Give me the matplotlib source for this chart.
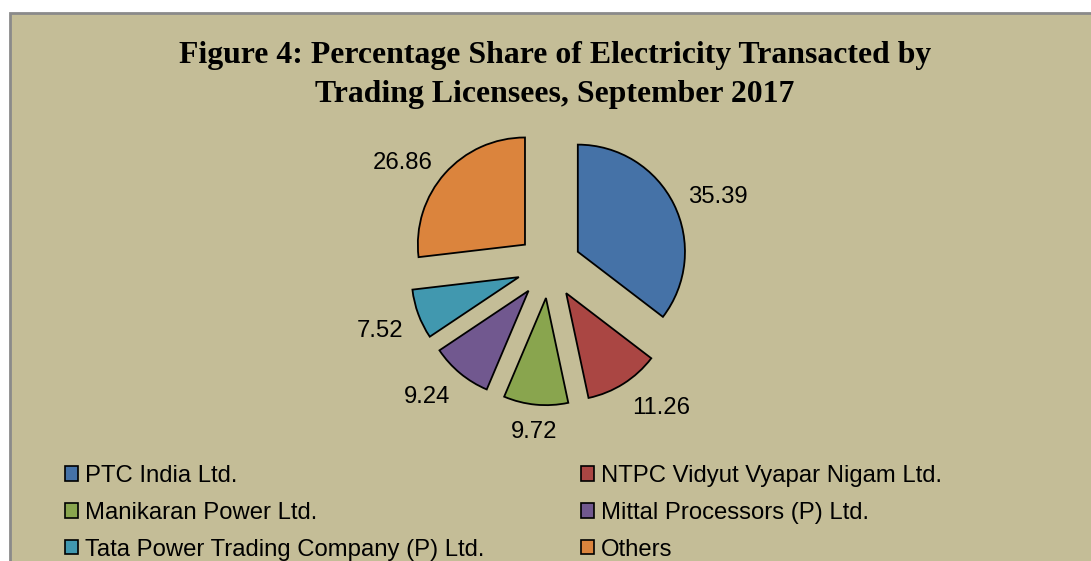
import matplotlib
matplotlib.use("Agg")
import matplotlib.pyplot as plt
from matplotlib.patches import Rectangle, Patch
import numpy as np

# data
companies = ["PTC India Ltd.", "NTPC Vidyut Vyapar Nigam Ltd.", "Manikaran Power Ltd.",
             "Mittal Processors (P) Ltd.", "Tata Power Trading Company (P) Ltd.", "Others"]
shares = [35.39, 11.26, 9.72, 9.24, 7.52, 26.86]
share_labels = ["35.39", "11.26", "9.72", "9.24", "7.52", "26.86"]
colors = ["#4572A7", "#AA4643", "#89A54E", "#71588F", "#4198AF", "#DB843D"]

W, H = 1091, 561
bg = "#C4BD97"
fs = 17.2

plt.rcParams['font.family'] = ['Liberation Sans', 'DejaVu Sans']

fig = plt.figure(figsize=(W / 100, H / 100), dpi=100, facecolor="white")

# chart area frame (right and bottom run off the image)
fig.patches.append(Rectangle((9.5 / W, -0.05), 1.2, (H - 13) / H + 0.05,
                             transform=fig.transFigure, facecolor=bg,
                             edgecolor="#8a8a8a", linewidth=2, zorder=-10))

# title
tfont = dict(family=['Liberation Serif', 'DejaVu Serif'], weight='bold', size=22.9,
             ha='center', va='baseline')
fig.text(555 / W, 1 - 63 / H, "Figure 4: Percentage Share of Electricity Transacted by", **tfont)
fig.text(555 / W, 1 - 102 / H, "Trading Licensees, September 2017", **tfont)

# pie
box = 300
cx, cy = 549, 266
ax = fig.add_axes([(cx - box / 2) / W, (H - cy - box / 2) / H, box / W, box / H])
wedges, _ = ax.pie(shares, colors=colors, startangle=90, counterclock=False,
                   explode=[0.3] * len(shares),
                   wedgeprops=dict(edgecolor="black", linewidth=1.3))
ax.set_xlim(-1.4, 1.4)
ax.set_ylim(-1.4, 1.4)
ax.set_facecolor("none")

# value labels just outside each slice
for w, lab in zip(wedges, share_labels):
    th = np.deg2rad((w.theta1 + w.theta2) / 2)
    c, s = np.cos(th), np.sin(th)
    x = w.center[0] + 1.15 * w.r * c
    y = w.center[1] + 1.15 * w.r * s
    ha = 'left' if c > 0.3 else ('right' if c < -0.3 else 'center')
    va = 'top' if s < -0.3 else ('bottom' if s > 0.7 else 'center')
    ax.text(x, y, lab, ha=ha, va=va, fontsize=fs)

# legend, row-wise order like the original
order = [0, 2, 4, 1, 3, 5]
handles = [Patch(facecolor=colors[i], edgecolor="black", linewidth=1.2) for i in order]
fig.legend(handles, [companies[i] for i in order], ncol=2, frameon=False,
           loc='upper left', bbox_to_anchor=(65 / W, 1 - 465 / H),
           fontsize=fs, handlelength=0.55, handleheight=0.55, handletextpad=0.3,
           columnspacing=4.02, labelspacing=0.62, borderpad=0, borderaxespad=0)

fig.savefig("out.png", dpi=100, facecolor=fig.get_facecolor())
